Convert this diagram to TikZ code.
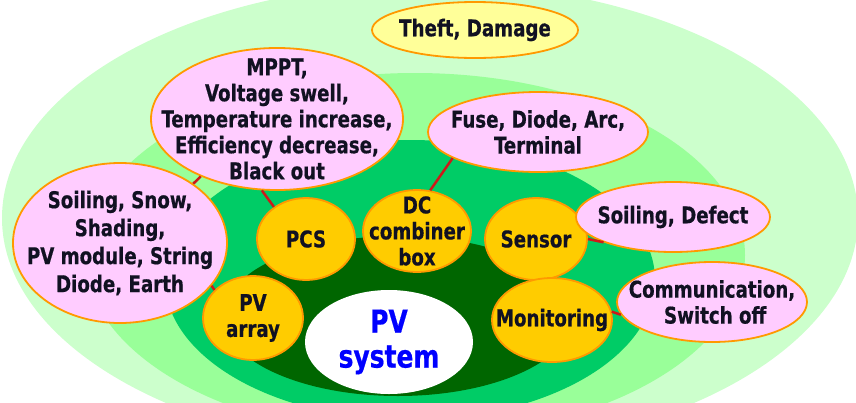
\documentclass[tikz,border=0pt]{standalone}
\usepackage{fontspec}
\usetikzlibrary{shapes.geometric}
\newfontfamily\bubfont{DejaVu Sans Condensed}[FakeStretch=0.88, FakeBold=0.6]

\definecolor{fieldA}{HTML}{CCFFCC}
\definecolor{fieldB}{HTML}{99FF99}
\definecolor{fieldC}{HTML}{00CC66}
\definecolor{fieldD}{HTML}{006600}
\definecolor{rimc}{HTML}{FF9900}
\definecolor{pinkc}{HTML}{FFCCFF}
\definecolor{goldc}{HTML}{FFCC00}
\definecolor{lemonc}{HTML}{FFFF99}
\definecolor{linkc}{HTML}{CC1A1A}
\definecolor{txtc}{HTML}{111122}

\tikzset{
    bub/.style={ellipse, draw=rimc, line width=1.8pt, inner sep=0pt},
    fault/.style={bub, fill=pinkc},
    part/.style={bub, fill=goldc},
    bubtext/.style={font=\bubfont\bfseries\fontsize{23}{26}\selectfont, text=txtc, align=center, inner sep=0pt},
    coretext/.style={font=\bubfont\bfseries\fontsize{31.5}{35}\selectfont, text=blue, align=center, inner sep=0pt},
    link/.style={linkc, line width=2.5pt}
}

\begin{document}
\begin{tikzpicture}[x=1pt, y=-1pt]
    \useasboundingbox (0,0) rectangle (856,402);
    \clip (0,0) rectangle (856,402);
    % Background fields
        \fill[fieldA] (430,218) ellipse [x radius=428pt, y radius=235pt];
        \fill[fieldB] (415,255) ellipse [x radius=330pt, y radius=182pt];
        \fill[fieldC] (410,280) ellipse [x radius=245pt, y radius=140pt];
        \fill[fieldD] (398,316) ellipse [x radius=175pt, y radius=80pt];

    % Core
        \node[ellipse, fill=white, inner sep=0pt, minimum width=168pt, minimum height=104pt,
            label={[coretext]center:{PV\\system}}] (core) at (389,342) {};

    % Components
        \node[part, minimum width=98pt, minimum height=82pt,
            label={[bubtext]center:PCS}] (pcs) at (306,239) {};
        \node[part, minimum width=108pt, minimum height=82pt,
            label={[bubtext]center:{DC\\combiner\\box}}] (dcbox) at (417,231) {};
        \node[part, minimum width=102pt, minimum height=82pt,
            label={[bubtext]center:Sensor}] (sensor) at (536,239) {};
        \node[part, minimum width=100pt, minimum height=84pt,
            label={[bubtext]center:{PV\\array}}] (pvarray) at (253,318) {};
        \node[part, minimum width=120pt, minimum height=84pt,
            label={[bubtext]center:Monitoring}] (monitor) at (552,320) {};

    % Faults
        \node[bub, fill=lemonc, minimum width=206pt, minimum height=56pt,
            label={[bubtext]center:{Theft, Damage}}] (theft) at (475,30) {};
        \node[fault, minimum width=252pt, minimum height=142pt,
            label={[bubtext]center:{MPPT,\\Voltage swell,\\Temperature increase,\\Efficiency decrease,\\Black out}}] (mppt) at (277,119) {};
        \node[fault, minimum width=220pt, minimum height=80pt,
            label={[bubtext]center:{Fuse, Diode, Arc,\\Terminal}}] (fuse) at (538,132) {};
        \node[fault, minimum width=214pt, minimum height=160pt,
            label={[bubtext, font=\bubfont\bfseries\fontsize{23}{28}\selectfont]center:{Soiling, Snow,\\Shading,\\PV module, String\\Diode, Earth}}] (snow) at (120,243) {};
        \node[fault, minimum width=194pt, minimum height=70pt,
            label={[bubtext]center:{Soiling, Defect}}] (defect) at (673,217) {};
        \node[fault, minimum width=190pt, minimum height=80pt,
            label={[bubtext]center:{Communication,\\\ Switch off}}] (comm) at (712,302) {};

    % Links
        \draw[link] (mppt.258) -- (pcs.135);
        \draw[link] (snow.39) -- (mppt.217);
        \draw[link] (snow.335) -- (pvarray.144);
        \draw[link] (dcbox.72) -- (fuse.197);
        \draw[link] (sensor.east) -- (defect.200);
        \draw[link] (monitor.8) -- (comm.188);
\end{tikzpicture}
\end{document}
